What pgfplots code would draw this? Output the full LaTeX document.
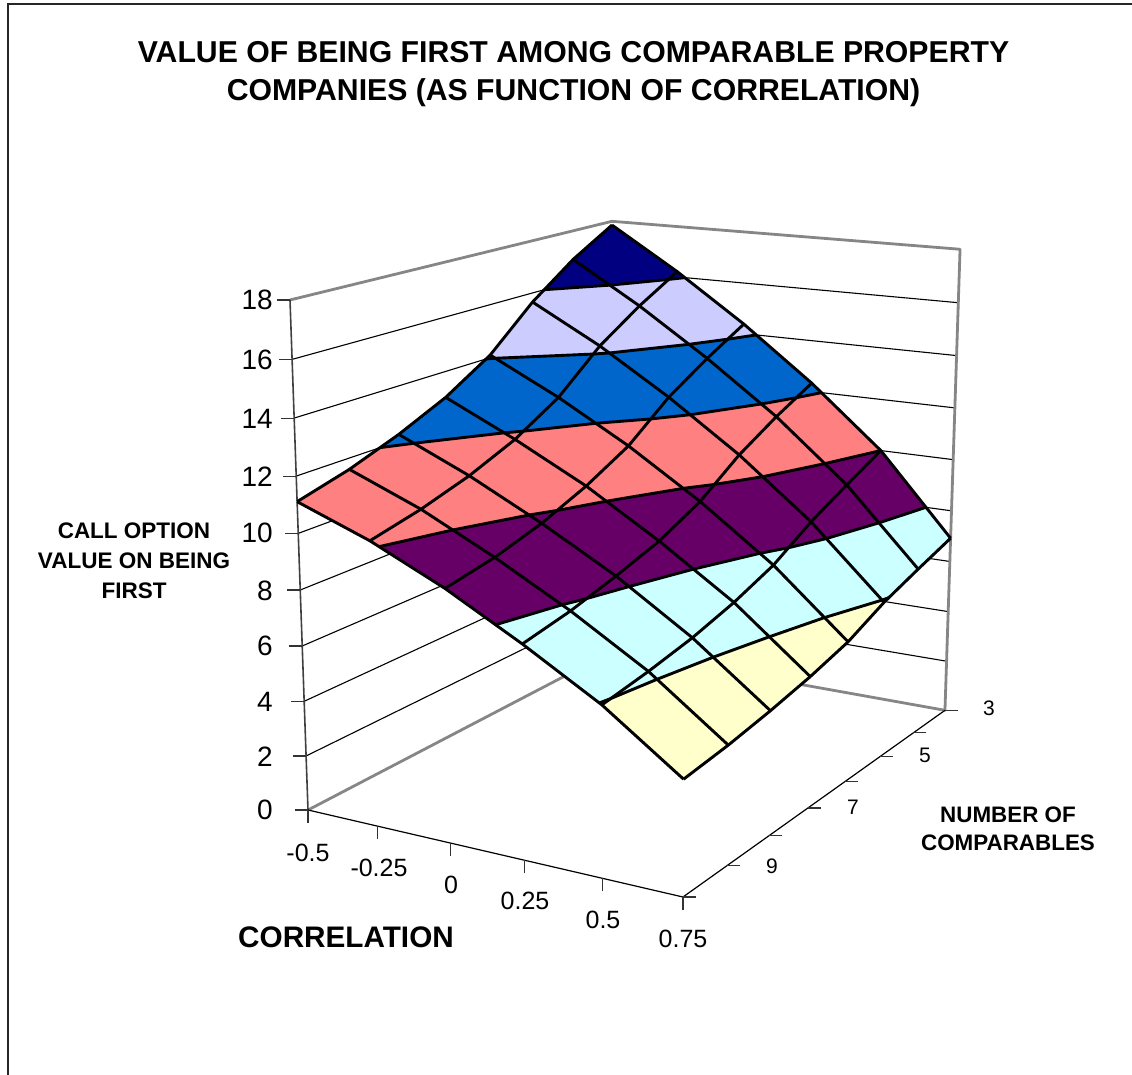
\documentclass[border=0pt]{standalone}
\usepackage{pgfplots}
\usepackage{pgfplotstable}
\usepackage{fontspec}
\setmainfont{Liberation Sans}
\pgfplotsset{compat=1.18}

\definecolor{bandA}{HTML}{FFFFCC}
\definecolor{bandB}{HTML}{CCFFFF}
\definecolor{bandC}{HTML}{660066}
\definecolor{bandD}{HTML}{FF8080}
\definecolor{bandE}{HTML}{0066CC}
\definecolor{bandF}{HTML}{CCCCFF}
\definecolor{bandG}{HTML}{000080}
\definecolor{wallgrey}{HTML}{868686}

% Option value on the grid: correlation c, number of comparables n, value z
\pgfplotstableread{
c n z
-0.5 10 11.11
-0.5 9 11.60
-0.5 8 12.25
-0.5 7 13.04
-0.5 6 14.10
-0.5 5 15.65
-0.5 4 16.88
-0.5 3 17.85
-0.25 10 10.15
-0.25 9 10.56
-0.25 8 11.10
-0.25 7 11.81
-0.25 6 12.80
-0.25 5 14.23
-0.25 4 15.30
-0.25 3 16.21
0 10 8.94
0 9 9.27
0 8 9.77
0 7 10.45
0 6 11.31
0 5 12.57
0 4 13.53
0 3 14.38
0.25 10 7.51
0.25 9 7.84
0.25 8 8.30
0.25 7 8.83
0.25 6 9.60
0.25 5 10.71
0.25 4 11.58
0.25 3 12.33
0.5 10 5.95
0.5 9 6.22
0.5 8 6.56
0.5 7 7.03
0.5 6 7.64
0.5 5 8.55
0.5 4 9.29
0.5 3 10.00
0.75 10 4.00
0.75 9 4.20
0.75 8 4.48
0.75 7 4.82
0.75 6 5.25
0.75 5 5.93
0.75 4 6.44
0.75 3 6.92
}\surface

% The same values ordered by number of comparables
\pgfplotstableread{
c n z
-0.5 10 11.11
-0.25 10 10.15
0 10 8.94
0.25 10 7.51
0.5 10 5.95
0.75 10 4.00
-0.5 9 11.60
-0.25 9 10.56
0 9 9.27
0.25 9 7.84
0.5 9 6.22
0.75 9 4.20
-0.5 8 12.25
-0.25 8 11.10
0 8 9.77
0.25 8 8.30
0.5 8 6.56
0.75 8 4.48
-0.5 7 13.04
-0.25 7 11.81
0 7 10.45
0.25 7 8.83
0.5 7 7.03
0.75 7 4.82
-0.5 6 14.10
-0.25 6 12.80
0 6 11.31
0.25 6 9.60
0.5 6 7.64
0.75 6 5.25
-0.5 5 15.65
-0.25 5 14.23
0 5 12.57
0.25 5 10.71
0.5 5 8.55
0.75 5 5.93
-0.5 4 16.88
-0.25 4 15.30
0 4 13.53
0.25 4 11.58
0.5 4 9.29
0.75 4 6.44
-0.5 3 17.85
-0.25 3 16.21
0 3 14.38
0.25 3 12.33
0.5 3 10.00
0.75 3 6.92
}\surfaceByN

% Level curves of the surface
\pgfplotstableread{
c n z
0.492 10 6
0.5 9.815 6
0.527 9 6
0.567 8 6
0.6165 7 6
0.6715 6 6
0.743 5 6
0.75 4.863 6
}\levelSix
\pgfplotstableread{
c n z
0.164 10 8
0.222 9 8
0.25 8.652 8
0.293 8 8
0.365 7 8
0.454 6 8
0.5 5.604 8
0.5525 5 8
0.613 4 8
0.662 3 8
}\levelEight
\pgfplotstableread{
c n z
-0.219 10 10
-0.1415 9 10
-0.043 8 10
0 7.662 10
0.0695 7 10
0.1915 6 10
0.25 5.64 10
0.332 5 10
0.4225 4 10
0.5 3 10
}\levelTen
\pgfplotstableread{
c n z
-0.5 8.385 12
-0.4457 8 12
-0.2885 7 12
-0.25 6.808 12
-0.116 6 12
0 5.452 12
0.0766 5 12
0.196 4 12
0.25 3.44 12
0.2854 3 12
}\levelTwelve
\pgfplotstableread{
c n z
-0.5 6.094 14
-0.481 6 14
-0.25 5.161 14
-0.2154 5 14
-0.0664 4 14
0 3.447 14
0.046 3 14
}\levelFourteen
\pgfplotstableread{
c n z
-0.5 4.715 16
-0.361 4 16
-0.25 3.231 16
-0.221 3 16
}\levelSixteen

% Wall gridlines and frame of the box
\pgfplotstableread{
c n
-0.5 10
-0.5 3
0.75 3
}\wallpath
\pgfplotstableread{
c n z
-0.5 10 18
-0.5 3 18
0.75 3 18
0.75 3 0
-0.5 3 0
-0.5 10 0
}\frameback
\pgfplotstableread{
c n z
-0.5 10 0
0.75 10 0
0.75 3 0
}\floorfront
\pgfplotstableread{
c n z
-0.5 10 0
-0.5 10 18
}\zaxisline
\pgfplotstableread{
c n z
-0.5 10 0
-0.5 10 2
-0.5 10 4
-0.5 10 6
-0.5 10 8
-0.5 10 10
-0.5 10 12
-0.5 10 14
-0.5 10 16
-0.5 10 18
}\zticks
\pgfplotstableread{
c n z
-0.5 10 0
-0.25 10 0
0 10 0
0.25 10 0
0.5 10 0
0.75 10 0
}\cticks
\pgfplotstableread{
c n z
0.75 10 0
0.75 9 0
0.75 8 0
0.75 7 0
0.75 6 0
0.75 5 0
0.75 4 0
0.75 3 0
}\nticks

\pgfdeclareplotmark{ztick}{\pgfsetlinewidth{1.1pt}\pgfpathmoveto{\pgfpoint{-13pt}{0pt}}\pgfpathlineto{\pgfpoint{0pt}{0pt}}\pgfusepathqstroke}
\pgfdeclareplotmark{ctick}{\pgfsetlinewidth{1.1pt}\pgfpathmoveto{\pgfpoint{0pt}{-13pt}}\pgfpathlineto{\pgfpoint{0pt}{0pt}}\pgfusepathqstroke}
\pgfdeclareplotmark{ntick}{\pgfsetlinewidth{1.1pt}\pgfpathmoveto{\pgfpoint{13pt}{0pt}}\pgfpathlineto{\pgfpoint{0pt}{0pt}}\pgfusepathqstroke}

% Perspective projection of (c,n,z) onto the page
\pgfplotsset{
  table/projected/.style={x expr={px(\thisrow{c},\thisrow{n},\thisrow{z})},
                    y expr={py(\thisrow{c},\thisrow{n},\thisrow{z})}},
  gridline/.style={black,line width=2.9pt,line join=round,no markers},
  wall/.style={black,line width=1.1pt,no markers},
  band/.style={fill=#1,draw=none,no markers,forget plot},
}
\newcommand{\tk}[1]{\fontsize{#1}{#1}\selectfont}

\begin{document}
\begin{tikzpicture}[x=1pt,y=1pt]
\useasboundingbox (0,0) rectangle (1132,1075);
\begin{axis}[
  at={(0,0)},anchor=south west,
  scale only axis,width=1132pt,height=1075pt,
  xmin=0,xmax=1132,ymin=0,ymax=1075,
  y dir=reverse,
  hide axis,clip=false,
  declare function={
    uu(\c)=(\c+0.5)/1.25;
    vv(\n)=(10-\n)/7;
    den(\u,\v,\w)=1-0.0849*\u+0.1969*\v-0.0519*\w;
    pxx(\u,\v,\w)=(308+317*\u+425.8*\v-33.05*\w)/den(\u,\v,\w);
    pyy(\u,\v,\w)=(810+10.85*\u-31*\v-525.6*\w)/den(\u,\v,\w);
    px(\c,\n,\z)=pxx(uu(\c),vv(\n),\z/18);
    py(\c,\n,\z)=pyy(uu(\c),vv(\n),\z/18);
  },
]
% Chart border
\addplot[black!85,line width=1.7pt,no markers] coordinates {(8,1075) (8,4) (1132,4)};

% Gridlines on the two back walls
\pgfplotsinvokeforeach{2,4,...,16}{
  \addplot[wall] table[x expr={px(\thisrow{c},\thisrow{n},#1)},y expr={py(\thisrow{c},\thisrow{n},#1)}] \wallpath;
}
\addplot[wallgrey,line width=2.8pt,no markers,line join=round] table[projected] \frameback;
\addplot[black!75,line width=1.6pt,no markers] table[projected] \zaxisline;
\addplot[black,line width=1.2pt,no markers,line join=round] table[projected] \floorfront;
\addplot[only marks,mark=ztick,mark options={black!80}] table[projected] \zticks;
\addplot[only marks,mark=ctick,mark options={black!80}] table[projected] \cticks;
\addplot[only marks,mark=ntick,mark options={black!80}] table[projected] \nticks;

% Colour bands of the surface, each between two level curves
\addplot[band=bandA] table[projected] {
c n z
0.492 10 6
0.5 9.815 6
0.527 9 6
0.567 8 6
0.6165 7 6
0.6715 6 6
0.743 5 6
0.75 4.863 6
0.75 5 5.93
0.75 6 5.25
0.75 7 4.82
0.75 8 4.48
0.75 9 4.20
0.75 10 4.00
0.5 10 5.95
};
\addplot[band=bandB] table[projected] {
c n z
0.492 10 6
0.5 9.815 6
0.527 9 6
0.567 8 6
0.6165 7 6
0.6715 6 6
0.743 5 6
0.75 4.863 6
0.75 4 6.44
0.75 3 6.92
0.662 3 8
0.613 4 8
0.5525 5 8
0.5 5.604 8
0.454 6 8
0.365 7 8
0.293 8 8
0.25 8.652 8
0.222 9 8
0.164 10 8
0.25 10 7.51
};
\addplot[band=bandC] table[projected] {
c n z
0.164 10 8
0.222 9 8
0.25 8.652 8
0.293 8 8
0.365 7 8
0.454 6 8
0.5 5.604 8
0.5525 5 8
0.613 4 8
0.662 3 8
0.5 3 10
0.4225 4 10
0.332 5 10
0.25 5.64 10
0.1915 6 10
0.0695 7 10
0 7.662 10
-0.043 8 10
-0.1415 9 10
-0.219 10 10
0 10 8.94
};
\addplot[band=bandD] table[projected] {
c n z
-0.219 10 10
-0.1415 9 10
-0.043 8 10
0 7.662 10
0.0695 7 10
0.1915 6 10
0.25 5.64 10
0.332 5 10
0.4225 4 10
0.5 3 10
0.2854 3 12
0.25 3.44 12
0.196 4 12
0.0766 5 12
0 5.452 12
-0.116 6 12
-0.25 6.808 12
-0.2885 7 12
-0.4457 8 12
-0.5 8.385 12
-0.5 9 11.60
-0.5 10 11.11
-0.25 10 10.15
};
\addplot[band=bandE] table[projected] {
c n z
-0.5 8.385 12
-0.4457 8 12
-0.2885 7 12
-0.25 6.808 12
-0.116 6 12
0 5.452 12
0.0766 5 12
0.196 4 12
0.25 3.44 12
0.2854 3 12
0.25 3 12.33
0.046 3 14
0 3.447 14
-0.0664 4 14
-0.2154 5 14
-0.25 5.161 14
-0.481 6 14
-0.5 6.094 14
-0.5 7 13.04
-0.5 8 12.25
};
\addplot[band=bandF] table[projected] {
c n z
-0.5 6.094 14
-0.481 6 14
-0.25 5.161 14
-0.2154 5 14
-0.0664 4 14
0 3.447 14
0.046 3 14
0 3 14.38
-0.221 3 16
-0.25 3.231 16
-0.361 4 16
-0.5 4.715 16
-0.5 5 15.65
-0.5 6 14.10
};
\addplot[band=bandG] table[projected] {
c n z
-0.5 4.715 16
-0.361 4 16
-0.25 3.231 16
-0.221 3 16
-0.25 3 16.21
-0.5 3 17.85
-0.5 4 16.88
};

% Level curves
\addplot[gridline] table[projected] \levelSix;
\addplot[gridline] table[projected] \levelEight;
\addplot[gridline] table[projected] \levelTen;
\addplot[gridline] table[projected] \levelTwelve;
\addplot[gridline] table[projected] \levelFourteen;
\addplot[gridline] table[projected] \levelSixteen;

% Surface mesh: lines of constant correlation and of constant comparables
\pgfplotsinvokeforeach{-0.5,-0.25,0,0.25,0.5,0.75}{
  \addplot[gridline,
    restrict expr to domain={abs(\thisrow{c}-(#1))}{0:0.01}] table[projected] \surface;
}
\pgfplotsinvokeforeach{3,4,5,6,7,8,9,10}{
  \addplot[gridline,
    restrict expr to domain={abs(\thisrow{n}-(#1))}{0:0.01}] table[projected] \surfaceByN;
}

% Tick labels
\foreach \val/\yy in {18/300,16/360,14/419,12/477,10/533,8/591,6/646,4/702,2/757,0/810}{
  \edef\temp{\noexpand\node[anchor=east,inner sep=0pt,font=\noexpand\tk{28}] at (axis cs:273,\yy) {\val};}
  \temp
}
\foreach \val/\xx/\yy in {-0.5/308/853,-0.25/379/868,0/451/885,0.25/525/901,0.5/603/920,0.75/683/939}{
  \edef\temp{\noexpand\node[inner sep=0pt,font=\noexpand\tk{25}] at (axis cs:\xx,\yy) {\val};}
  \temp
}
\foreach \val/\xx/\yy in {3/989/708,5/925/755,7/853/807,9/772/866}{
  \edef\temp{\noexpand\node[inner sep=0pt,font=\noexpand\tk{21}] at (axis cs:\xx,\yy) {\val};}
  \temp
}

% Titles
\node[align=center,inner sep=0pt,font=\tk{30.2}\bfseries] at (axis cs:573.5,52) {VALUE OF BEING FIRST AMONG COMPARABLE PROPERTY};
\node[align=center,inner sep=0pt,font=\tk{30.2}\bfseries] at (axis cs:573.5,93) {COMPANIES (AS FUNCTION OF CORRELATION)};
\node[inner sep=0pt,font=\tk{29.7}\bfseries] at (axis cs:346,937) {CORRELATION};
\node[inner sep=0pt,font=\tk{22.4}\bfseries] at (axis cs:1008,815) {NUMBER OF};
\node[inner sep=0pt,font=\tk{22.4}\bfseries] at (axis cs:1008,843) {COMPARABLES};
\node[inner sep=0pt,font=\tk{22.5}\bfseries] at (axis cs:134,531) {CALL OPTION};
\node[inner sep=0pt,font=\tk{22.5}\bfseries] at (axis cs:134,561) {VALUE ON BEING};
\node[inner sep=0pt,font=\tk{22.5}\bfseries] at (axis cs:134,591) {FIRST};
\end{axis}
\end{tikzpicture}
\end{document}
